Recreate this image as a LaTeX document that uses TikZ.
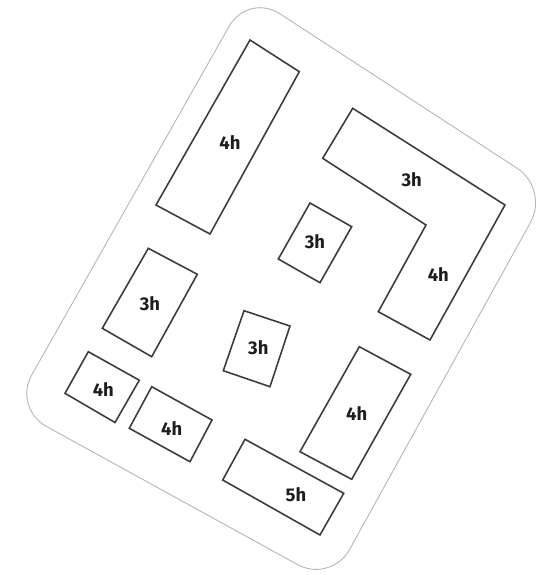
\documentclass[tikz,border=0pt]{standalone}
\usepackage{fontspec}
\setmainfont{Fira Sans}
\usepackage{xcolor}
\usepackage{tikz}
\definecolor{cerceve}{HTML}{B4B4B4}
\definecolor{bina}{HTML}{3C3C3C}
\definecolor{yazi}{HTML}{1E1E1E}
\tikzset{
  binastil/.style={draw=bina,line width=0.9pt,line join=miter},
  katstil/.style={text=yazi,font=\fontsize{10.5pt}{12pt}\selectfont\bfseries,inner sep=0pt}
}

\begin{document}
\begin{tikzpicture}[x=0.02cm,y=-0.02cm]
\useasboundingbox (0,0) rectangle (537,575);
% dis cerceve
\draw[cerceve,line width=0.5pt,rounded corners=0.76cm]
  (398.5,91) -- (549,189) -- (331,583) -- (13,408) -- (248,-7) -- cycle;
% binalar
\draw[binastil] (250,40) -- (299.3,71.7) -- (210,234) -- (156,205) -- cycle;
\draw[binastil] (352.7,108.3) -- (505,205) -- (430,340) -- (378.3,311.7)
  -- (426,225) -- (322.7,158.3) -- cycle;
\draw[binastil] (310,203) -- (351.7,226.7) -- (320,282.7) -- (278.3,259) -- cycle;
\draw[binastil] (148.3,248.3) -- (197.3,274.3) -- (151.7,356.7) -- (102.3,328.3) -- cycle;
\draw[binastil] (244,310.7) -- (290,326) -- (270,386.7) -- (223.3,370.7) -- cycle;
\draw[binastil] (88.3,351.7) -- (139.3,380.2) -- (115,422.5) -- (65,393.3) -- cycle;
\draw[binastil] (151.7,386.7) -- (212,420) -- (190,461.7) -- (129.3,428.3) -- cycle;
\draw[binastil] (359.3,346.7) -- (410.7,374.3) -- (351.7,479.3) -- (300,451.7) -- cycle;
\draw[binastil] (245,439.3) -- (343.7,493.3) -- (320,535) -- (222.7,480) -- cycle;
% kat sayilari
\node[katstil] (katA) at (230,143) {4h};
\node[katstil] (katB) at (411.7,180) {3h};
\node[katstil] (katC) at (438.3,275) {4h};
\node[katstil] (katD) at (315,242) {3h};
\node[katstil] (katE) at (150,304) {3h};
\node[katstil] (katF) at (258.3,347.3) {3h};
\node[katstil] (katG) at (103.3,390) {4h};
\node[katstil] (katH) at (171.7,428.3) {4h};
\node[katstil] (katI) at (356.7,413.3) {4h};
\node[katstil] (katJ) at (296,495) {5h};
\end{tikzpicture}
\end{document}
